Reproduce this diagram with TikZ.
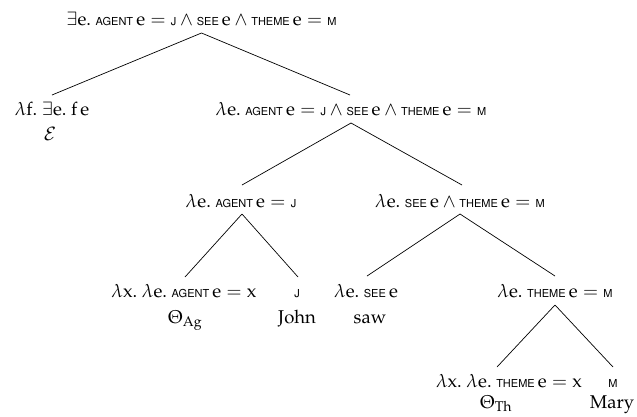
\documentclass[tikz,border=0pt]{standalone}
\usepackage[T1]{fontenc}
\usepackage{amsmath}
\usepackage{mathpazo}
\usetikzlibrary{calc}
% predicate constants in small sans capitals
\newcommand{\kw}[1]{\text{\fontsize{11}{13}\usefont{T1}{phv}{m}{n}#1}}
% upright variables
\newcommand{\ev}{\mathrm{e}}
\newcommand{\fv}{\mathrm{f}}
\newcommand{\xv}{\mathrm{x}}
\begin{document}
\begin{tikzpicture}[x=1pt,y=-1pt,
  every node/.style={font=\fontsize{18.5}{22}\selectfont, inner sep=0pt, anchor=base},
  branch/.style={line width=0.7pt}]
\useasboundingbox (0,0) rectangle (637,416);

% root
\node (root) at (201.5,25) {$\exists \ev.\ \kw{AGENT}\,\ev = \kw{J} \wedge \kw{SEE}\,\ev \wedge \kw{THEME}\,\ev = \kw{M}$};

% level 1
\node (lf)  at (52,115)  {$\lambda \fv.\ \exists \ev.\ \fv\,\ev$};
\node (ex)  at (50,140)  {$\mathcal{E}$};
\node (r1)  at (351,115) {$\lambda \ev.\ \kw{AGENT}\,\ev = \kw{J} \wedge \kw{SEE}\,\ev \wedge \kw{THEME}\,\ev = \kw{M}$};

% level 2
\node (ag)  at (241,207) {$\lambda \ev.\ \kw{AGENT}\,\ev = \kw{J}$};
\node (se)  at (460,207) {$\lambda \ev.\ \kw{SEE}\,\ev \wedge \kw{THEME}\,\ev = \kw{M}$};

% level 3
\node (agx) at (184,297) {$\lambda \xv.\ \lambda \ev.\ \kw{AGENT}\,\ev = \xv$};
\node (thag) at (185,323) {$\Theta_{\text{Ag}}$};
\node (jj)  at (297,297) {$\kw{J}$};
\node (john) at (297,323) {John};
\node (see) at (366,297) {$\lambda \ev.\ \kw{SEE}\,\ev$};
\node (saw) at (370,323) {saw};
\node (th)  at (555,297) {$\lambda \ev.\ \kw{THEME}\,\ev = \kw{M}$};

% level 4
\node (thx) at (509,387) {$\lambda \xv.\ \lambda \ev.\ \kw{THEME}\,\ev = \xv$};
\node (thth) at (496,408) {$\Theta_{\text{Th}}$};
\node (mm)  at (613,387) {$\kw{M}$};
\node (mary) at (612,408) {Mary};

% branches
\draw[branch] ([yshift=-8pt]root.base) -- ([yshift=20pt]lf.base);
\draw[branch] ([yshift=-8pt]root.base) -- ([xshift=-1pt,yshift=20pt]r1.base);
\draw[branch] ([yshift=-8pt]r1.base) -- ([xshift=1pt,yshift=22pt]ag.base);
\draw[branch] ([yshift=-8pt]r1.base) -- ([xshift=2pt,yshift=22pt]se.base);
\draw[branch] ([xshift=1pt,yshift=-7pt]ag.base) -- ([xshift=1pt,yshift=20pt]agx.base);
\draw[branch] ([xshift=1pt,yshift=-7pt]ag.base) -- ([xshift=1pt,yshift=20pt]jj.base);
\draw[branch] ([yshift=-7pt]se.base) -- ([xshift=1pt,yshift=21pt]see.base);
\draw[branch] ([yshift=-7pt]se.base) -- ([yshift=21pt]th.base);
\draw[branch] ([yshift=-8pt]th.base) -- ([xshift=-12pt,yshift=20pt]thx.base);
\draw[branch] ([yshift=-8pt]th.base) -- ([yshift=20pt]mm.base);
\end{tikzpicture}
\end{document}
